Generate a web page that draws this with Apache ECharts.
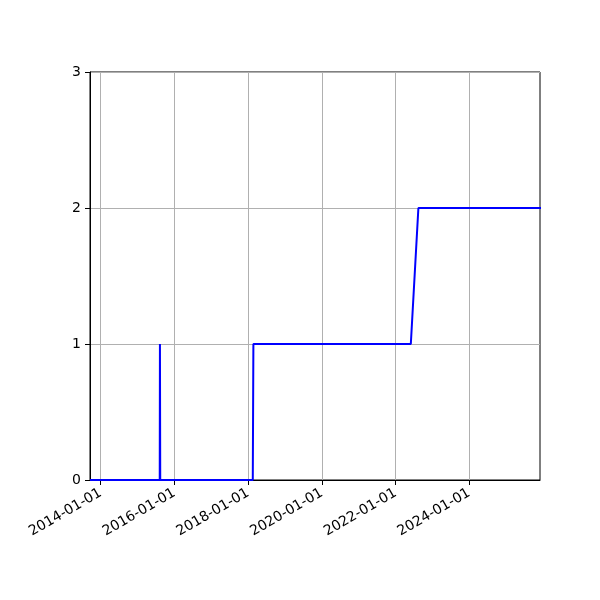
<!DOCTYPE html>
<html>
<head>
<meta charset="utf-8">
<script src="https://cdn.jsdelivr.net/npm/echarts@6/dist/echarts.min.js"></script>
<style>
  html, body { margin: 0; padding: 0; background: #fff; }
  #chart { width: 600px; height: 600px; }
</style>
</head>
<body>
<div id="chart"></div>
<script>
// series points (date, value)
var dates = ['2013-09-17', '2015-08-09', '2015-08-11', '2015-08-14', '2018-02-16', '2018-02-22', '2022-06-01', '2022-08-15', '2025-12-31'];
var values = [0, 0, 1, 0, 0, 1, 1, 2, 2];
// x tick labels
var tickDates = ['2014-01-01', '2016-01-01', '2018-01-01', '2020-01-01', '2022-01-01', '2024-01-01'];
var xMin = '2013-09-17', xMax = '2025-12-02';

function ts(s) {
    var p = s.split('-');
    return Date.UTC(+p[0], +p[1] - 1, +p[2]);
}
function pad(n) { return n < 10 ? '0' + n : '' + n; }

var tickValues = tickDates.map(ts);
var seriesData = dates.map(function(d, i) { return [ts(d), values[i]]; });

var myChart = echarts.init(document.getElementById('chart'));

var option = {
    animation: false,
    grid: {
        left: 90,
        right: 60,
        top: 72,
        bottom: 120,
        show: true,
        borderColor: '#000',
        borderWidth: 1
    },
    xAxis: {
        type: 'value',
        min: ts(xMin),
        max: ts(xMax),
        axisLine: { show: true, lineStyle: { color: '#000', width: 1 } },
        axisTick: {
            show: true, length: 5, inside: false,
            customValues: tickValues,
            lineStyle: { color: '#000' }
        },
        axisLabel: {
            customValues: tickValues,
            rotate: 30,
            margin: 12,
            color: '#000',
            fontSize: 14,
            fontFamily: 'DejaVu Sans',
            formatter: function(v) {
                var d = new Date(v);
                return d.getUTCFullYear() + '-' + pad(d.getUTCMonth() + 1) + '-' + pad(d.getUTCDate());
            }
        },
        splitLine: { show: true, lineStyle: { color: '#b0b0b0', width: 1 } }
    },
    yAxis: {
        type: 'value',
        min: 0,
        max: 3,
        interval: 1,
        axisLine: { show: true, lineStyle: { color: '#000', width: 1 } },
        axisTick: { show: true, length: 5, lineStyle: { color: '#000' } },
        axisLabel: {
            margin: 9,
            color: '#000',
            fontSize: 14,
            fontFamily: 'DejaVu Sans'
        },
        splitLine: { show: true, lineStyle: { color: '#b0b0b0', width: 1 } }
    },
    series: [{
        type: 'line',
        data: seriesData,
        showSymbol: false,
        symbol: 'none',
        clip: true,
        lineStyle: { color: '#0000ff', width: 2 }
    }]
};

myChart.setOption(option);
</script>
</body>
</html>
